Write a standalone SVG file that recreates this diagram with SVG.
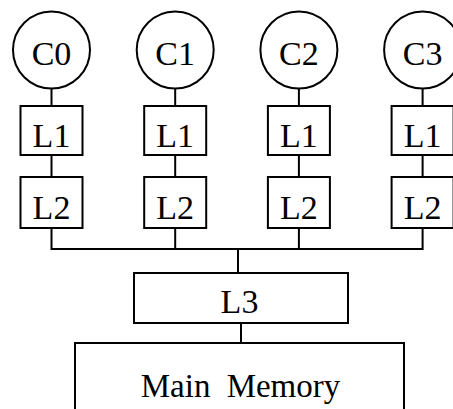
<svg xmlns="http://www.w3.org/2000/svg" width="453" height="409" viewBox="0 0 453 409">
  <style>
    .shape { fill: #ffffff; stroke: #000000; stroke-width: 2; }
    .wire { fill: none; stroke: #000000; stroke-width: 2; }
    .label { font-family: 'Liberation Serif', 'Times New Roman', serif; font-size: 34px; fill: #000000; text-anchor: middle; }
    .big { font-size: 33px; word-spacing: 8px; }
  </style>
  <rect width="453" height="409" fill="#ffffff"/>

  <!-- connectors -->
  <g id="connectors">
    <line class="wire" x1="51.5" y1="88" x2="51.5" y2="106"/>
    <line class="wire" x1="175.2" y1="88" x2="175.2" y2="106"/>
    <line class="wire" x1="298.9" y1="88" x2="298.9" y2="106"/>
    <line class="wire" x1="422.6" y1="88" x2="422.6" y2="106"/>
    <line class="wire" x1="51.5" y1="155" x2="51.5" y2="177"/>
    <line class="wire" x1="175.2" y1="155" x2="175.2" y2="177"/>
    <line class="wire" x1="298.9" y1="155" x2="298.9" y2="177"/>
    <line class="wire" x1="422.6" y1="155" x2="422.6" y2="177"/>
    <polyline class="wire" points="51.5,228 51.5,249 422.6,249 422.6,228"/>
    <line class="wire" x1="175.2" y1="228" x2="175.2" y2="249"/>
    <line class="wire" x1="298.9" y1="228" x2="298.9" y2="249"/>
    <line class="wire" x1="238" y1="249" x2="238" y2="273"/>
    <line class="wire" x1="241" y1="323" x2="241" y2="343"/>
  </g>

  <!-- cores -->
  <g id="c0"><circle class="shape" cx="51.5" cy="50" r="38.5"/><text class="label" x="51.5" y="65">C0</text></g>
  <g id="c1"><circle class="shape" cx="175.2" cy="50" r="38.5"/><text class="label" x="175.2" y="65">C1</text></g>
  <g id="c2"><circle class="shape" cx="298.9" cy="50" r="38.5"/><text class="label" x="298.9" y="65">C2</text></g>
  <g id="c3"><circle class="shape" cx="422.6" cy="50" r="38.5"/><text class="label" x="422.6" y="65">C3</text></g>

  <!-- private L1 caches -->
  <g id="l1-0"><rect class="shape" x="20.5" y="106" width="62" height="49"/><text class="label" x="51.5" y="146.5">L1</text></g>
  <g id="l1-1"><rect class="shape" x="144.2" y="106" width="62" height="49"/><text class="label" x="175.2" y="146.5">L1</text></g>
  <g id="l1-2"><rect class="shape" x="267.9" y="106" width="62" height="49"/><text class="label" x="298.9" y="146.5">L1</text></g>
  <g id="l1-3"><rect class="shape" x="391.6" y="106" width="62" height="49"/><text class="label" x="422.6" y="146.5">L1</text></g>

  <!-- private L2 caches -->
  <g id="l2-0"><rect class="shape" x="20.5" y="177" width="62" height="51"/><text class="label" x="51.5" y="219">L2</text></g>
  <g id="l2-1"><rect class="shape" x="144.2" y="177" width="62" height="51"/><text class="label" x="175.2" y="219">L2</text></g>
  <g id="l2-2"><rect class="shape" x="267.9" y="177" width="62" height="51"/><text class="label" x="298.9" y="219">L2</text></g>
  <g id="l2-3"><rect class="shape" x="391.6" y="177" width="62" height="51"/><text class="label" x="422.6" y="219">L2</text></g>

  <!-- shared L3 -->
  <g id="l3"><rect class="shape" x="134" y="273" width="214" height="50"/><text class="label" x="239.5" y="313">L3</text></g>

  <!-- main memory -->
  <g id="main-memory"><rect class="shape" x="75" y="343" width="329" height="100"/><text class="label big" x="240.5" y="397">Main Memory</text></g>
</svg>
